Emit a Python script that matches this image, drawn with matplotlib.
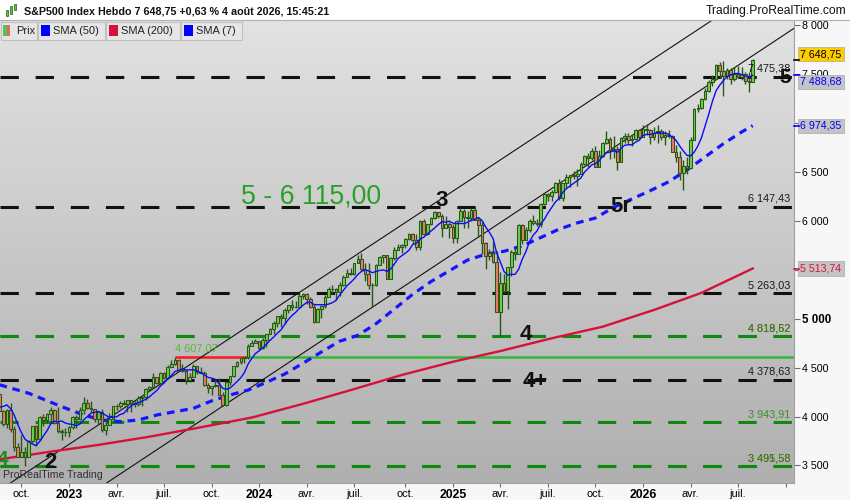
import numpy as np
import pandas as pd
import matplotlib
matplotlib.use('Agg')
import matplotlib.pyplot as plt
from matplotlib.patches import Rectangle
from matplotlib.colors import LinearSegmentedColormap
import matplotlib.transforms as mtrans

plt.rcParams['font.family'] = ['Liberation Sans', 'DejaVu Sans']

# ---------------- data (weekly bars, Monday dates) ----------------
first_week = '2022-07-04'
close_2022 = [3899, 3863, 3962, 4130, 4145, 4280, 4228, 4057, 3924, 4067, 3873, 3693, 3586,
              3640, 3583, 3752, 3901, 3771, 3993, 3965, 4026, 4072, 3934, 3852, 3845, 3840]
high_2022 = [3918, 3905, 4012, 4140, 4167, 4290, 4325, 4204, 4062, 4077, 4140, 3907, 3733,
             3807, 3685, 3763, 3905, 3912, 4001, 4028, 4034, 4100, 4076, 4101, 3876, 3878]
low_2022 = [3742, 3721, 3818, 3913, 4080, 4107, 4218, 4057, 3907, 3886, 3838, 3647, 3584,
            3585, 3492, 3590, 3730, 3698, 3751, 3906, 3938, 3939, 3919, 3828, 3764, 3800]

close_2023 = [3895, 3999, 3973, 4070, 4136, 4090, 4079, 3970, 4045, 3862, 3917, 3971, 4109,
              4105, 4138, 4133, 4169, 4136, 4124, 4192, 4205, 4282, 4299, 4409, 4348, 4450,
              4399, 4505, 4536, 4582, 4478, 4464, 4370, 4406, 4516, 4457, 4450, 4320, 4288,
              4309, 4327, 4224, 4117, 4358, 4415, 4514, 4559, 4595, 4604, 4719, 4754, 4770]
high_2023 = [3907, 4003, 4015, 4095, 4195, 4176, 4156, 4067, 4048, 4079, 3964, 4039, 4110,
             4133, 4164, 4169, 4171, 4171, 4155, 4212, 4213, 4290, 4310, 4448, 4409, 4458,
             4456, 4527, 4578, 4607, 4584, 4541, 4490, 4448, 4541, 4520, 4511, 4464, 4338,
             4311, 4385, 4394, 4255, 4366, 4418, 4521, 4569, 4598, 4606, 4739, 4779, 4793]
low_2023 = [3794, 3877, 3885, 3966, 4031, 4079, 4048, 3944, 3928, 3847, 3809, 3909, 3968,
            4069, 4091, 4114, 4049, 4048, 4099, 4110, 4103, 4167, 4261, 4303, 4333, 4328,
            4385, 4400, 4504, 4528, 4467, 4458, 4335, 4356, 4402, 4430, 4448, 4316, 4238,
            4217, 4300, 4223, 4104, 4104, 4321, 4406, 4507, 4537, 4547, 4593, 4719, 4751]

close_2024 = [4697, 4784, 4840, 4891, 4959, 5027, 5006, 5089, 5137, 5124, 5117, 5234, 5254,
              5204, 5123, 4967, 5100, 5128, 5223, 5303, 5305, 5278, 5347, 5431, 5465, 5460,
              5567, 5615, 5505, 5459, 5347, 5344, 5554, 5634, 5648, 5408, 5626, 5703, 5738,
              5751, 5815, 5865, 5808, 5729, 5996, 5871, 5969, 6032, 6090, 6051, 5931, 5971, 5942]
high_2024 = [4754, 4803, 4843, 4907, 4975, 5031, 5048, 5111, 5140, 5190, 5179, 5262, 5265,
             5263, 5220, 5150, 5114, 5139, 5239, 5325, 5342, 5315, 5376, 5447, 5506, 5524,
             5570, 5655, 5669, 5566, 5566, 5370, 5564, 5643, 5651, 5623, 5636, 5734, 5767,
             5763, 5822, 5879, 5878, 5865, 6013, 6017, 5973, 6045, 6099, 6085, 6074, 6050, 5990]
low_2024 = [4682, 4688, 4714, 4845, 4845, 4918, 4920, 4946, 5057, 5092, 5105, 5116, 5204,
            5146, 5107, 4953, 4973, 5011, 5114, 5218, 5256, 5191, 5234, 5331, 5447, 5447,
            5445, 5565, 5497, 5390, 5305, 5120, 5330, 5560, 5570, 5402, 5406, 5600, 5703,
            5675, 5725, 5810, 5762, 5703, 5706, 5853, 5853, 5963, 6018, 6026, 5833, 5932, 5825]

close_2025 = [5827, 5997, 6101, 6041, 6026, 6115, 6013, 5955, 5770, 5639, 5668, 5581, 5074,
              5363, 5283, 5525, 5686, 5660, 5958, 5803, 5912, 6000, 5977, 5967, 6173, 6279,
              6260, 6297, 6389, 6238, 6389, 6450, 6467, 6460, 6482, 6584, 6664, 6644, 6716,
              6553, 6664, 6792, 6840, 6728, 6734, 6603, 6849, 6870, 6830, 6834, 6930, 6860]
high_2025 = [5964, 6014, 6128, 6120, 6101, 6128, 6147, 6044, 5987, 5783, 5715, 5787, 5695,
             5481, 5459, 5528, 5700, 5720, 5964, 5968, 5943, 6016, 6059, 6024, 6187, 6284,
             6290, 6316, 6394, 6428, 6390, 6481, 6472, 6508, 6533, 6600, 6672, 6699, 6750,
             6764, 6725, 6808, 6920, 6860, 6870, 6770, 6860, 6895, 6900, 6880, 6945, 6940]
low_2025 = [5774, 5773, 5999, 5933, 5923, 6004, 6008, 5837, 5667, 5505, 5597, 5573, 5069,
            4818.62, 5262, 5101, 5433, 5598, 5775, 5767, 5807, 5891, 5963, 5952, 5943, 6164,
            6201, 6202, 6281, 6212, 6201, 6342, 6343, 6431, 6360, 6481, 6574, 6551, 6627,
            6550, 6550, 6657, 6790, 6631, 6646, 6521, 6600, 6800, 6790, 6770, 6830, 6840]

close_2026 = [6945, 6930, 6860, 6900, 6915, 6860, 6880, 6870, 6710, 6650, 6490, 6560, 6540,
              6830, 7140, 7150, 7250, 7330, 7420, 7450, 7590, 7530, 7480, 7540, 7450, 7500,
              7472, 7500, 7430, 7420, 7648.75]
high_2026 = [6985, 6990, 6940, 6960, 6980, 6940, 6920, 6930, 6880, 6780, 6720, 6620, 6650,
             6860, 7160, 7200, 7260, 7360, 7440, 7490, 7600, 7630, 7640, 7560, 7560, 7570,
             7580, 7570, 7520, 7520, 7660]
low_2026 = [6860, 6880, 6790, 6830, 6800, 6830, 6780, 6850, 6700, 6600, 6420, 6317, 6480,
            6540, 6830, 7110, 7140, 7240, 7320, 7380, 7460, 7460, 7280, 7450, 7400, 7430,
            7460, 7440, 7400, 7320, 7480]

# SMA(50) and SMA(200) (date, value)
sma50_dates = ['2022-08-22', '2022-10-17', '2022-12-19', '2023-01-30', '2023-03-06', '2023-04-10',
               '2023-05-15', '2023-06-19', '2023-07-24', '2023-08-28', '2023-10-02', '2023-11-06',
               '2023-12-11', '2024-01-15', '2024-02-19', '2024-03-25', '2024-04-29', '2024-06-03',
               '2024-07-08', '2024-08-12', '2024-09-16', '2024-10-21', '2024-11-25', '2024-12-30',
               '2025-02-03', '2025-03-10', '2025-04-14', '2025-05-19', '2025-06-23', '2025-07-28',
               '2025-09-01', '2025-10-06', '2025-11-10', '2025-12-15', '2026-01-19', '2026-02-23',
               '2026-03-30', '2026-05-04', '2026-06-08', '2026-07-13', '2026-08-03']
sma50_vals = [4325, 4238, 4101, 4016, 3965, 3948, 3965, 4016, 4050, 4084, 4160, 4220,
              4271, 4350, 4435, 4545, 4660, 4770, 4830, 4950, 5100, 5250, 5380, 5490,
              5600, 5660, 5690, 5745, 5830, 5915, 5980, 6030, 6140, 6225, 6310, 6400,
              6520, 6655, 6790, 6910, 6974.35]
sma200_dates = ['2022-08-22', '2022-11-28', '2023-02-27', '2023-06-05', '2023-09-11', '2023-12-18',
                '2024-03-25', '2024-06-24', '2024-09-30', '2025-01-06', '2025-04-07', '2025-07-14',
                '2025-10-20', '2026-01-26', '2026-04-27', '2026-08-03']
sma200_vals = [3563, 3641, 3710, 3794, 3890, 3990, 4130, 4270, 4425, 4560, 4670, 4800,
               4919, 5090, 5265, 5513.74]

black_levels = [7475.38, 6147.43, 5263.03, 4378.63]
black_labels = ['7 475,38', '6 147,43', '5 263,03', '4 378,63']
green_levels = [4818.62, 4819.52, 3943.91, 3491.58, 3495.58]
green_labels = ['4 818,62', '4 819,52', '3 943,91', '3 491,58', '3 495,58']

resistance = 4607.07
resistance_start, resistance_break = '2023-07-24', '2023-12-11'

trend_upper = [('2022-10-10', 3420), ('2026-04-20', 7956)]
trend_lower = [('2023-10-23', 4105), ('2026-08-03', 7690)]

yticks = [3500, 4000, 4500, 5000, 5500, 6000, 6500, 7000, 7500, 8000]
hidden_ytick_labels = [5500, 7000]

# ---------------- build series ----------------
closes = close_2022 + close_2023 + close_2024 + close_2025 + close_2026
highs = high_2022 + high_2023 + high_2024 + high_2025 + high_2026
lows = low_2022 + low_2023 + low_2024 + low_2025 + low_2026
n = len(closes)
dates = pd.date_range(first_week, periods=n, freq='W-MON')
opens = [closes[0]] + closes[:-1]
def ix(d):
    d = pd.Timestamp(d)
    return int(np.argmin(np.abs((dates - d).days)))

sma7 = pd.Series(closes).rolling(7).mean()

# ---------------- figure ----------------
W, H = 850, 500
fig = plt.figure(figsize=(8.5, 5), dpi=100)
fig.patch.set_facecolor('#f7f7f7')
def fx(px): return px / W
def fy(py): return 1 - py / H

ax = fig.add_axes([0, fy(483), fx(794), (483 - 20) / H])
spacing = 3.656
i2023 = ix('2023-01-02')
left = i2023 - 69 / spacing
ax.set_xlim(left, left + 794 / spacing)
ax.set_ylim(3320.6, 8054.7)

cmap = LinearSegmentedColormap.from_list('bg', ['#e2e2e2', '#afafaf'])
ax.imshow(np.linspace(0, 1, 256).reshape(-1, 1), cmap=cmap, aspect='auto',
          extent=[0, 1, 0, 1], transform=ax.transAxes, zorder=0)

# horizontal levels
for lv in black_levels:
    ax.axhline(lv, color='#111111', lw=2.2, ls=(0, (6, 5.5)), zorder=2)
for lv in green_levels:
    ax.axhline(lv, color='#0f8a0f', lw=2.2, ls=(0, (6, 5.5)), zorder=2)

# resistance line
ax.plot([ix(resistance_start), ix(resistance_break)], [resistance, resistance],
        color='#ff1a1a', lw=1.8, zorder=3, solid_capstyle='butt')
ax.plot([ix(resistance_break), ax.get_xlim()[1]], [resistance, resistance],
        color='#35b835', lw=1.8, zorder=3, solid_capstyle='butt')

# trend channel
for (d1, v1), (d2, v2) in (trend_upper, trend_lower):
    ax.axline((ix(d1), v1), (ix(d2), v2), color='#111111', lw=0.8, zorder=3)

# SMA 200 / 50
ax.plot([ix(d) for d in sma200_dates], sma200_vals, color='#d4123c', lw=1.7, zorder=4)
ax.plot([ix(d) for d in sma50_dates], sma50_vals, color='#1515ff', lw=2.3,
        ls=(0, (2.4, 1.8)), zorder=4)

# candles
wick = '#285616'
for i in range(n):
    o, c, h, l = opens[i], closes[i], highs[i], lows[i]
    ax.plot([i, i], [l, h], color=wick, lw=1.0, zorder=5, solid_capstyle='butt')
    up = c >= o
    ax.add_patch(Rectangle((i - 0.36, min(o, c)), 0.72, max(abs(c - o), 3),
                           facecolor='#6bd048' if up else '#e97a66',
                           edgecolor=wick, lw=0.75, zorder=6))

# SMA 7
ax.plot(range(n), sma7, color='#0a0aff', lw=1.0, zorder=7)

# level labels at right
btr = mtrans.blended_transform_factory(ax.transAxes, ax.transData)
for lv, lb in zip(black_levels, black_labels):
    ax.annotate(lb, xy=(0.995, lv), xycoords=btr, xytext=(0, 2), textcoords='offset points',
                ha='right', va='bottom', fontsize=7.8, color='#1a1a1a', zorder=9)
green_cols = ['#1d8f1d', '#55701d', '#3d8f2d', '#1d8f1d', '#55701d']
for lv, lb, col in zip(green_levels, green_labels, green_cols):
    ax.annotate(lb, xy=(0.995, lv), xycoords=btr, xytext=(0, 2), textcoords='offset points',
                ha='right', va='bottom', fontsize=7.8, color=col, zorder=9)

ax.annotate('4 607,07', xy=(ix(resistance_start), resistance), xytext=(0, 3),
            textcoords='offset points', ha='left', va='bottom', fontsize=7.9,
            color='#5cb83c', zorder=9)

# wave labels
def wave(d, v, s, color='#111111', size=16, bold=True, dx=0.0):
    ax.text(ix(d) + dx, v, s, fontsize=size, color=color, ha='center', va='center',
            fontweight='bold' if bold else 'normal', zorder=10, clip_on=True)
wave('2024-12-16', 6214, '3')
wave('2025-11-24', 6151, '5r')
wave('2025-05-26', 4844, '4')
wave('2025-06-09', 4363, '4+', dx=0.5)
wave('2022-11-21', 3535, '2', dx=0.8)
wave('2026-08-03', 7470, '5', size=15, dx=9)
wave('2022-08-22', 3560, '4', color='#1d8f1d', size=15, dx=0.9)
ax.text(ix('2024-04-08') + 0.2, 6245, '5 - 6 115,00', fontsize=19.3, color='#27a127',
        ha='center', va='center', zorder=10)
ax.text(0.004, 0.007, 'ProRealTime Trading', transform=ax.transAxes, fontsize=7.6,
        color='#303030', ha='left', va='bottom', zorder=10)

# axes styling
for s in ('left', 'top'):
    ax.spines[s].set_visible(False)
ax.spines['right'].set_color('#a0a0a0')
ax.spines['bottom'].set_color('#a0a0a0')
ax.yaxis.tick_right()
ax.set_yticks(yticks)
ax.set_yticklabels(['' if v in hidden_ytick_labels else f'{v:,}'.replace(',', ' ')
                    for v in yticks], fontsize=7.7)
for t in ax.get_yticklabels():
    if t.get_text() == '5 000':
        t.set_fontweight('bold')
        t.set_fontsize(8.3)
ax.tick_params(axis='y', length=4, color='#707070', pad=2)

qnames = {1: None, 4: 'avr.', 7: 'juil.', 10: 'oct.'}
tick_pos, tick_lab = [], []
prev = None
ext_dates = pd.date_range(first_week, periods=n + 12, freq='W-MON')
for i, d in enumerate(ext_dates):
    if d.month in qnames and (prev is None or prev.month != d.month):
        if ax.get_xlim()[0] <= i <= ax.get_xlim()[1]:
            tick_pos.append(i)
            tick_lab.append(str(d.year) if d.month == 1 else qnames[d.month])
    prev = d
if tick_pos[-1] > n - 1:
    tick_lab[-1] = ''
ax.set_xticks(tick_pos)
ax.set_xticklabels(tick_lab, fontsize=7.8)
for t in ax.get_xticklabels():
    if t.get_text().isdigit():
        t.set_fontweight('bold')
        t.set_fontsize(8.8)
ax.tick_params(axis='x', length=3, color='#707070', pad=1.5)

# right axis value boxes
def box(v, s, fc, tc, dy):
    ax.annotate(s, xy=(1.0, v), xycoords=btr, xytext=(4.5, dy), textcoords='offset points',
                ha='left', va='center', fontsize=7.7, color=tc, zorder=20,
                annotation_clip=False,
                bbox=dict(boxstyle='square,pad=0.2', fc=fc, ec='#a8a8a8', lw=0.5))
    ax.plot([1.0, 1.006], [v, v], transform=btr, color=tc, lw=1.2, clip_on=False, zorder=20)
box(closes[-1], '7 648,75', '#ffcc00', '#000000', 3.9)
box(sma7.iloc[-1], '7 488,68', '#c4c4c4', '#0000ff', -4.7)
box(sma50_vals[-1], '6 974,35', '#c4c4c4', '#0000ff', 0)
box(sma200_vals[-1], '5 513,74', '#c4c4c4', '#d4123c', 0)

# title bar
fig.patches.append(Rectangle((0, fy(20)), 1, 20 / H, transform=fig.transFigure,
                             facecolor='white', edgecolor='none', zorder=0))
fig.add_artist(plt.Line2D([0, 1], [fy(20), fy(20)], color='#b0b0b0', lw=0.8))
for x0, y0, hgt in [(6, 10, 6), (10, 6, 8), (14, 4, 6)]:
    fig.patches.append(Rectangle((fx(x0), fy(y0 + hgt)), fx(2.2), hgt / H,
                                 transform=fig.transFigure, facecolor='#5ec23c',
                                 edgecolor='#2b5c18', lw=0.5))
fig.text(fx(24), fy(11), 'S&P500 Index Hebdo 7 648,75 +0,63 % 4 août 2026, 15:45:21',
         fontsize=7.75, fontweight='bold', ha='left', va='center', color='#111111')
fig.text(fx(846), fy(11), 'Trading.ProRealTime.com', fontsize=8.75, ha='right',
         va='center', color='#111111')

# legend boxes
leg = [('Prix', None, 1, 37), ('SMA (50)', '#0000ff', 38, 105),
       ('SMA (200)', '#d4123c', 106, 180), ('SMA (7)', '#0000ff', 181, 242)]
for lbl, col, x0, x1 in leg:
    fig.patches.append(Rectangle((fx(x0), fy(40)), fx(x1 - x0), 18 / H,
                                 transform=fig.transFigure, facecolor='#e6e6e6',
                                 edgecolor='#c0c0c0', lw=0.8, zorder=30))
    if col is None:
        fig.patches.append(Rectangle((fx(x0 + 2), fy(36)), fx(3.5), 11 / H,
                                     transform=fig.transFigure, facecolor='#52c452',
                                     edgecolor='none', zorder=31))
        fig.patches.append(Rectangle((fx(x0 + 5.5), fy(36)), fx(3.5), 11 / H,
                                     transform=fig.transFigure, facecolor='#e06a6a',
                                     edgecolor='none', zorder=31))
    else:
        fig.patches.append(Rectangle((fx(x0 + 3), fy(36)), fx(9), 11 / H,
                                     transform=fig.transFigure, facecolor=col,
                                     edgecolor='none', zorder=31))
    fig.text(fx(x0 + 15), fy(31), lbl, fontsize=7.9, ha='left', va='center',
             color='#222222', zorder=32)

fig.savefig('out.png', dpi=100, facecolor=fig.get_facecolor())
